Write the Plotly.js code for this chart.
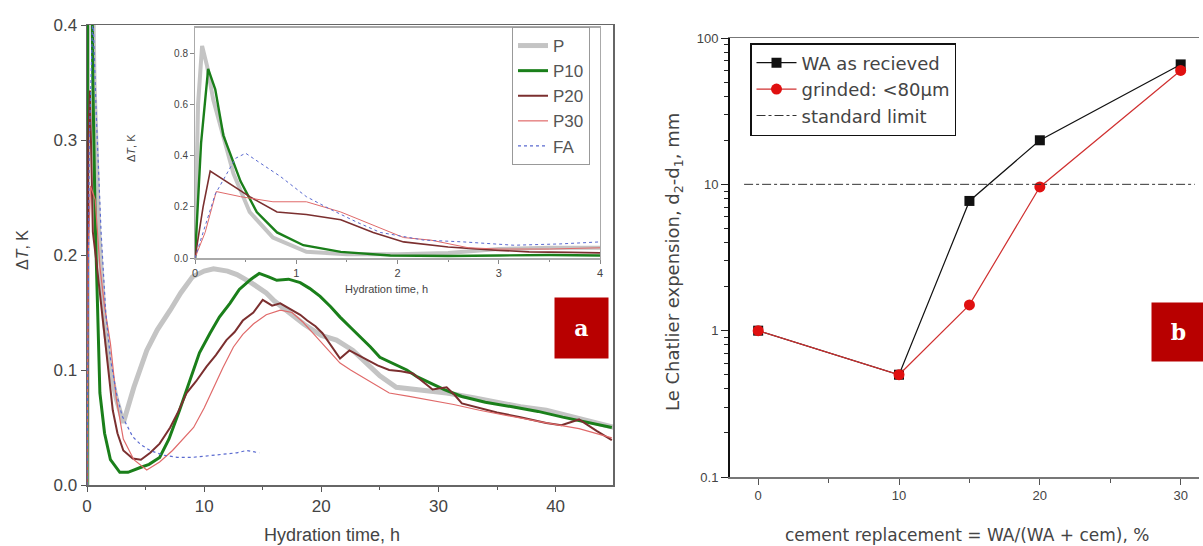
<!DOCTYPE html>
<html>
<head>
<meta charset="utf-8">
<script src="https://cdn.plot.ly/plotly-3.0.1.min.js"></script>
<style>html,body{margin:0;padding:0;background:#fff;}#chart{width:1203px;height:546px;}</style>
</head>
<body>
<div id="chart"></div>
<script>
// ---------- Panel a: main curves (hydration time, h ; ΔT, K) ----------
const P_t   = [0, 0.1, 0.3, 0.6, 1.0, 1.5, 2.0, 2.5, 3.1, 4.0, 5.1, 6.0, 7.1, 8.0, 9.0, 10.0, 10.8, 12.0, 12.8, 14.0, 15.3, 16.0, 17.0, 18.5, 20.0, 21.3, 22.7, 24.0, 25.0, 26.4, 28.0, 30.7, 33.0, 35.0, 37.0, 39.2, 41.0, 43.0, 45.0];
const P_v   = [0, 0.83, 0.55, 0.35, 0.22, 0.14, 0.10, 0.075, 0.054, 0.085, 0.117, 0.135, 0.152, 0.167, 0.181, 0.186, 0.188, 0.186, 0.183, 0.176, 0.167, 0.160, 0.152, 0.140, 0.130, 0.126, 0.117, 0.105, 0.095, 0.085, 0.083, 0.080, 0.076, 0.072, 0.068, 0.065, 0.060, 0.055, 0.050];

const P10_t = [0, 0.05, 0.15, 0.3, 0.5, 0.7, 0.85, 1.1, 1.5, 2.0, 2.8, 3.5, 4.5, 5.3, 6.2, 7.0, 7.9, 8.8, 9.6, 10.5, 11.3, 12.2, 13.0, 14.0, 14.7, 15.5, 16.2, 17.2, 18.2, 19.0, 19.9, 20.8, 21.6, 22.5, 23.3, 24.2, 25.0, 26.2, 27.3, 28.2, 29.2, 30.5, 32.0, 34.0, 36.3, 38.5, 40.6, 42.5, 44.8];
const P10_v = [0, 0.45, 0.74, 0.55, 0.35, 0.23, 0.167, 0.08, 0.045, 0.022, 0.011, 0.011, 0.015, 0.018, 0.024, 0.040, 0.065, 0.092, 0.115, 0.132, 0.146, 0.158, 0.170, 0.179, 0.184, 0.181, 0.178, 0.179, 0.176, 0.171, 0.164, 0.155, 0.146, 0.137, 0.129, 0.120, 0.111, 0.105, 0.100, 0.094, 0.089, 0.083, 0.077, 0.072, 0.068, 0.064, 0.059, 0.055, 0.050];

const P20_t = [0, 0.1, 0.25, 0.5, 0.85, 1.1, 1.4, 1.8, 2.2, 2.6, 3.1, 3.9, 4.6, 5.4, 6.2, 7.1, 7.8, 8.5, 9.3, 10.2, 11.0, 11.9, 12.6, 13.3, 14.2, 15.0, 15.8, 16.5, 17.0, 17.6, 18.2, 18.8, 19.5, 20.1, 20.9, 21.6, 22.4, 23.1, 23.9, 24.8, 25.8, 26.8, 27.8, 28.7, 29.5, 30.7, 31.4, 32.0, 33.5, 35.0, 37.0, 39.2, 40.5, 42.0, 43.5, 44.8];
const P20_v = [0, 0.30, 0.343, 0.22, 0.19, 0.167, 0.137, 0.10, 0.065, 0.045, 0.030, 0.023, 0.022, 0.028, 0.036, 0.050, 0.064, 0.080, 0.090, 0.103, 0.113, 0.126, 0.133, 0.143, 0.150, 0.161, 0.156, 0.158, 0.155, 0.152, 0.148, 0.143, 0.138, 0.132, 0.120, 0.110, 0.117, 0.113, 0.109, 0.104, 0.100, 0.099, 0.097, 0.090, 0.083, 0.085, 0.078, 0.071, 0.067, 0.063, 0.059, 0.054, 0.052, 0.057, 0.047, 0.039];

const P30_t = [0, 0.1, 0.3, 0.7, 1.1, 1.5, 2.0, 2.5, 3.1, 4.0, 5.1, 6.2, 7.3, 8.2, 9.1, 10.0, 10.8, 11.6, 12.5, 13.3, 14.2, 15.3, 16.5, 17.5, 18.4, 19.3, 20.5, 21.6, 22.5, 23.5, 24.6, 25.8, 27.5, 29.2, 31.3, 33.5, 36.0, 39.2, 42.0, 44.8];
const P30_v = [0, 0.20, 0.26, 0.248, 0.19, 0.155, 0.123, 0.075, 0.040, 0.022, 0.013, 0.020, 0.030, 0.040, 0.050, 0.067, 0.085, 0.102, 0.120, 0.131, 0.140, 0.148, 0.152, 0.150, 0.142, 0.132, 0.118, 0.106, 0.100, 0.094, 0.087, 0.080, 0.077, 0.074, 0.070, 0.065, 0.060, 0.054, 0.049, 0.041];

const FA_t  = [0, 0.2, 0.5, 0.8, 1.2, 1.6, 2.0, 2.5, 3.0, 3.9, 4.6, 5.4, 6.5, 7.7, 9.0, 10.0, 11.1, 12.0, 12.8, 13.6, 14.2, 14.7];
const FA_v  = [0, 0.30, 0.41, 0.32, 0.22, 0.15, 0.11, 0.08, 0.06, 0.042, 0.035, 0.030, 0.026, 0.024, 0.024, 0.025, 0.026, 0.027, 0.028, 0.030, 0.029, 0.028];

// ---------- Panel a: inset (first 4 h) ----------
const iP_t   = [0, 0.03, 0.07, 0.12, 0.18, 0.25, 0.38, 0.54, 0.77, 1.1, 1.5, 2.0, 2.5, 3.0, 3.5, 4.0];
const iP_v   = [0, 0.60, 0.83, 0.75, 0.62, 0.52, 0.33, 0.18, 0.08, 0.024, 0.015, 0.015, 0.02, 0.035, 0.04, 0.04];
const iP10_t = [0, 0.06, 0.13, 0.2, 0.28, 0.45, 0.61, 0.81, 1.07, 1.44, 1.93, 2.5, 3.0, 3.5, 4.0];
const iP10_v = [0, 0.45, 0.74, 0.66, 0.48, 0.30, 0.18, 0.10, 0.05, 0.024, 0.01, 0.008, 0.01, 0.012, 0.01];
const iP20_t = [0, 0.08, 0.15, 0.35, 0.54, 0.81, 1.1, 1.44, 1.76, 2.06, 2.5, 3.0, 3.3, 3.7, 4.0];
const iP20_v = [0, 0.20, 0.34, 0.29, 0.24, 0.18, 0.17, 0.15, 0.10, 0.063, 0.043, 0.03, 0.024, 0.022, 0.02];
const iP30_t = [0, 0.1, 0.21, 0.45, 0.77, 1.1, 1.44, 1.76, 2.06, 2.33, 2.7, 3.0, 3.5, 4.0];
const iP30_v = [0, 0.10, 0.26, 0.24, 0.22, 0.22, 0.18, 0.13, 0.08, 0.07, 0.04, 0.035, 0.035, 0.04];
const iFA_t  = [0, 0.2, 0.4, 0.5, 0.65, 0.84, 1.1, 1.34, 1.6, 1.83, 2.26, 2.65, 3.15, 3.6, 4.0];
const iFA_v  = [0, 0.25, 0.39, 0.41, 0.37, 0.32, 0.24, 0.19, 0.14, 0.10, 0.07, 0.063, 0.05, 0.055, 0.063];

// ---------- Panel b: Le Chatelier expansion ----------
const replacement = [0, 10, 15, 20, 30];
const WA_received = [1, 0.5, 7.7, 20, 66];
const WA_grinded  = [1, 0.5, 1.5, 9.6, 60];
const limitX = [-1, 31];
const limitY = [10, 10];

const seriesNames = ["P", "P10", "P20", "P30", "FA"];
const bNames = ["WA as recieved", "grinded: <80\u03bcm", "standard limit"];

const W = 1203, H = 546;
const px = (a, b) => [a / W, b / W];
const py = (top, bottom) => [(H - bottom) / H, (H - top) / H];

const FONT = "Liberation Sans Narrow, Arial Narrow, Liberation Sans, Arial, sans-serif";
const FONTB = "DejaVu Sans, Liberation Sans, Arial, sans-serif";
const tickGray = "#444";

const styles = [
  {color: "#c4c4c4", width: 5, dash: "solid"},
  {color: "#1a7f1a", width: 3, dash: "solid"},
  {color: "#7b2f2f", width: 2, dash: "solid"},
  {color: "#e06a6a", width: 1.2, dash: "solid"},
  {color: "#5a6ad0", width: 1.2, dash: "dot"}
];
const mainT = [P_t, P10_t, P20_t, P30_t, FA_t];
const mainV = [P_v, P10_v, P20_v, P30_v, FA_v];
const insT = [iP_t, iP10_t, iP20_t, iP30_t, iFA_t];
const insV = [iP_v, iP10_v, iP20_v, iP30_v, iFA_v];

const traces = [];
for (let i = 0; i < 5; i++) {
  traces.push({x: mainT[i], y: mainV[i], type: "scatter", mode: "lines", name: seriesNames[i],
    line: {color: styles[i].color, width: styles[i].width, dash: styles[i].dash},
    xaxis: "x", yaxis: "y", showlegend: true, legend: "legend"});
}
for (let i = 0; i < 5; i++) {
  traces.push({x: insT[i], y: insV[i], type: "scatter", mode: "lines", name: seriesNames[i],
    line: {color: styles[i].color, width: Math.max(1, styles[i].width * 0.8), dash: styles[i].dash},
    xaxis: "x2", yaxis: "y2", showlegend: false});
}
traces.push({x: replacement, y: WA_received, type: "scatter", mode: "lines+markers", name: bNames[0],
  line: {color: "#111", width: 1.2}, marker: {symbol: "square", size: 10, color: "#111"},
  xaxis: "x3", yaxis: "y3", legend: "legend2"});
traces.push({x: replacement, y: WA_grinded, type: "scatter", mode: "lines+markers", name: bNames[1],
  line: {color: "#d03030", width: 1.2}, marker: {symbol: "circle", size: 11, color: "#e01010"},
  xaxis: "x3", yaxis: "y3", legend: "legend2"});
traces.push({x: limitX, y: limitY, type: "scatter", mode: "lines", name: bNames[2],
  line: {color: "#333", width: 1, dash: "dashdot"},
  xaxis: "x3", yaxis: "y3", legend: "legend2"});

const minorLog = [];
[0.1, 1, 10].forEach(d => { for (let k = 2; k <= 9; k++) minorLog.push(+(d * k).toPrecision(2)); });

const ann = (text, x, y, size, family, extra) => Object.assign({
  text: text, xref: "paper", yref: "paper", x: x / W, y: (H - y) / H,
  xanchor: "center", yanchor: "middle", showarrow: false,
  font: {size: size, family: family, color: tickGray}}, extra || {});

const layout = {
  width: W, height: H,
  margin: {l: 0, r: 0, t: 0, b: 0},
  paper_bgcolor: "#fff", plot_bgcolor: "rgba(0,0,0,0)",
  font: {family: FONT, color: tickGray},
  xaxis: {domain: px(87, 613), range: [0, 44.9], anchor: "y",
    tickvals: [0, 10, 20, 30, 40], ticks: "outside", ticklen: 5, tickcolor: "#555",
    minor: {tickvals: [5, 15, 25, 35], ticks: "outside", ticklen: 3, tickcolor: "#555"},
    showgrid: false, zeroline: false, showline: true, linecolor: "#666", linewidth: 1.5, mirror: true,
    tickfont: {size: 17, family: FONT, color: tickGray}},
  yaxis: {domain: py(25, 485), range: [0, 0.4], anchor: "x",
    tickvals: [0, 0.1, 0.2, 0.3, 0.4], ticktext: ["0.0", "0.1", "0.2", "0.3", "0.4"],
    ticks: "outside", ticklen: 5, tickcolor: "#555",
    showgrid: false, zeroline: false, showline: true, linecolor: "#666", linewidth: 1.5, mirror: true,
    tickfont: {size: 17, family: FONT, color: tickGray}},
  xaxis2: {domain: px(195, 600), range: [0, 4], anchor: "y2",
    tickvals: [0, 1, 2, 3, 4], ticks: "outside", ticklen: 4, tickcolor: "#888",
    minor: {tickvals: [0.5, 1.5, 2.5, 3.5], ticks: "outside", ticklen: 2, tickcolor: "#888"},
    showgrid: false, zeroline: false, showline: true, linecolor: "#aaa", linewidth: 2, mirror: true,
    tickfont: {size: 11, family: FONT, color: tickGray}},
  yaxis2: {domain: py(28, 258), range: [0, 0.9], anchor: "x2",
    tickvals: [0, 0.2, 0.4, 0.6, 0.8], ticktext: ["0.0", "0.2", "0.4", "0.6", "0.8"],
    ticks: "outside", ticklen: 4, tickcolor: "#888",
    showgrid: false, zeroline: false, showline: true, linecolor: "#aaa", linewidth: 1, mirror: true,
    tickfont: {size: 10, family: FONT, color: tickGray}},
  xaxis3: {domain: px(730, 1199), range: [-2, 31.3], anchor: "y3",
    tickvals: [0, 10, 20, 30], ticks: "outside", ticklen: 6, tickcolor: "#555",
    minor: {tickvals: [5, 15, 25], ticks: "outside", ticklen: 4, tickcolor: "#555"},
    showgrid: false, zeroline: false, showline: true, linecolor: "#777", linewidth: 1.5, mirror: true,
    tickfont: {size: 13, family: FONT, color: tickGray}},
  yaxis3: {domain: py(38, 477), type: "log", range: [-1, 2], anchor: "x3",
    tickvals: [0.1, 1, 10, 100], ticktext: ["0.1", "1", "10", "100"],
    ticks: "outside", ticklen: 7, tickcolor: "#222",
    minor: {tickvals: minorLog, ticks: "outside", ticklen: 4, tickcolor: "#222"},
    showgrid: false, zeroline: false, showline: true, linecolor: "#111", linewidth: 2, mirror: false,
    tickfont: {size: 13, family: FONT, color: tickGray}},
  legend: {x: 512 / W, y: (H - 27) / H, xanchor: "left", yanchor: "top",
    bgcolor: "#fff", bordercolor: "#999", borderwidth: 1,
    font: {size: 17, family: FONT, color: "#555"}, tracegroupgap: 0, itemwidth: 30},
  legend2: {x: 750 / W, y: (H - 43) / H, xanchor: "left", yanchor: "top",
    bgcolor: "#fff", bordercolor: "#111", borderwidth: 1.5,
    font: {size: 18, family: FONTB, color: "#444"}, tracegroupgap: 0, itemwidth: 40},
  annotations: [
    ann("Hydration time, h", 332, 535, 18, FONT),
    ann("\u0394<i>T</i>, K", 22, 250, 16, FONT, {textangle: -90}),
    ann("Hydration time, h", 386, 289, 11, FONT),
    ann("\u0394<i>T</i>, K", 131, 148, 11, FONT, {textangle: -90}),
    ann("cement replacement = WA/(WA + cem), %", 967, 535, 17, FONTB),
    ann("Le Chatlier expension, d<sub>2</sub>-d<sub>1</sub>, mm", 674, 262, 18, FONTB, {textangle: -90}),
    ann("<b>a</b>", 581.5, 328, 22, "DejaVu Serif, serif",
      {bgcolor: "#b80000", width: 53, height: 60, borderpad: 0, font: {size: 22, family: "DejaVu Serif, serif", color: "#fff"}}),
    ann("<b>b</b>", 1178, 332, 22, "DejaVu Serif, serif",
      {bgcolor: "#b80000", width: 53, height: 58, borderpad: 0, font: {size: 22, family: "DejaVu Serif, serif", color: "#fff"}})
  ]
};

Plotly.newPlot("chart", traces, layout, {displayModeBar: false, staticPlot: true});
</script>
</body>
</html>
